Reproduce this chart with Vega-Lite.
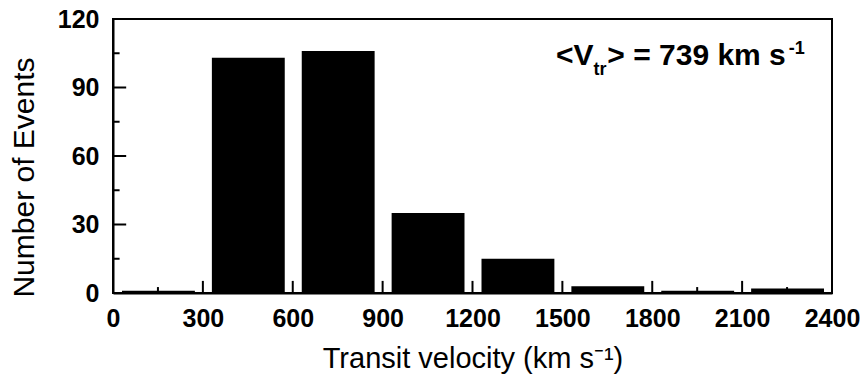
{
  "$schema": "https://vega.github.io/schema/vega-lite/v6.json",
  "width": 719,
  "height": 274,
  "autosize": "none",
  "padding": {"left": 113, "top": 19, "right": 34, "bottom": 86},
  "background": "white",
  "config": {
    "view": {"stroke": "black", "strokeWidth": 2},
    "font": "Liberation Sans"
  },
  "layer": [
    {
      "data": {
        "values": [
          {"bin_start": 0, "bin_end": 300, "count": 1},
          {"bin_start": 300, "bin_end": 600, "count": 103},
          {"bin_start": 600, "bin_end": 900, "count": 106},
          {"bin_start": 900, "bin_end": 1200, "count": 35},
          {"bin_start": 1200, "bin_end": 1500, "count": 15},
          {"bin_start": 1500, "bin_end": 1800, "count": 3},
          {"bin_start": 1800, "bin_end": 2100, "count": 1},
          {"bin_start": 2100, "bin_end": 2400, "count": 2}
        ]
      },
      "mark": {"type": "bar", "color": "black", "binSpacing": 17},
      "encoding": {
        "x": {
          "field": "bin_start",
          "bin": "binned",
          "type": "quantitative",
          "scale": {"domain": [0, 2400], "nice": false},
          "axis": {
            "orient": "bottom",
            "title": "Transit velocity (km s⁻¹)",
            "values": [0, 300, 600, 900, 1200, 1500, 1800, 2100, 2400],
            "format": "d",
            "ticks": false,
            "labelFont": "Liberation Sans",
            "labelFontWeight": "bold",
            "labelFontSize": 25,
            "labelColor": "black",
            "labelFlush": false,
            "labelOverlap": false,
            "labelPadding": 13,
            "titleFont": "Liberation Sans",
            "titleFontWeight": "normal",
            "titleFontSize": 29,
            "titleColor": "black",
            "titleBaseline": "alphabetic",
            "titleY": 74,
            "domainColor": "black",
            "domainWidth": 2,
            "grid": false
          }
        },
        "x2": {"field": "bin_end"},
        "y": {
          "field": "count",
          "type": "quantitative",
          "scale": {"domain": [0, 120], "nice": false},
          "axis": {
            "orient": "left",
            "title": "Number of Events",
            "values": [0, 30, 60, 90, 120],
            "ticks": false,
            "labelFont": "Liberation Sans",
            "labelFontWeight": "bold",
            "labelFontSize": 25,
            "labelColor": "black",
            "labelFlush": false,
            "labelOverlap": false,
            "labelPadding": 14,
            "titleFont": "Liberation Sans",
            "titleFontWeight": "normal",
            "titleFontSize": 30,
            "titleColor": "black",
            "titleBaseline": "alphabetic",
            "titleX": -80,
            "titleY": 158,
            "domainColor": "black",
            "domainWidth": 2,
            "grid": false
          }
        }
      }
    },
    {
      "data": {"values": [{"v": 300}, {"v": 600}, {"v": 900}, {"v": 1200}, {"v": 1500}, {"v": 1800}, {"v": 2100}]},
      "mark": {"type": "rule", "color": "black", "strokeWidth": 2},
      "encoding": {
        "x": {"field": "v", "type": "quantitative"},
        "y": {"datum": 0, "type": "quantitative"},
        "y2": {"datum": 5.3}
      }
    },
    {
      "data": {"values": [{"v": 150}, {"v": 450}, {"v": 750}, {"v": 1050}, {"v": 1350}, {"v": 1650}, {"v": 1950}, {"v": 2250}]},
      "mark": {"type": "rule", "color": "black", "strokeWidth": 2},
      "encoding": {
        "x": {"field": "v", "type": "quantitative"},
        "y": {"datum": 0, "type": "quantitative"},
        "y2": {"datum": 2.6}
      }
    },
    {
      "data": {"values": [{"v": 30}, {"v": 60}, {"v": 90}]},
      "mark": {"type": "rule", "color": "black", "strokeWidth": 2},
      "encoding": {
        "y": {"field": "v", "type": "quantitative"},
        "x": {"datum": 0, "type": "quantitative"},
        "x2": {"datum": 44}
      }
    },
    {
      "data": {"values": [{"v": 15}, {"v": 45}, {"v": 75}, {"v": 105}]},
      "mark": {"type": "rule", "color": "black", "strokeWidth": 2},
      "encoding": {
        "y": {"field": "v", "type": "quantitative"},
        "x": {"datum": 0, "type": "quantitative"},
        "x2": {"datum": 22}
      }
    },
    {
      "data": {"values": [{"t": "<V"}]},
      "mark": {"type": "text", "align": "left", "baseline": "alphabetic", "fontWeight": "bold", "fontSize": 30, "color": "black", "font": "Liberation Sans"},
      "encoding": {
        "x": {"datum": 1479, "type": "quantitative"},
        "y": {"datum": 100, "type": "quantitative"},
        "text": {"field": "t"}
      }
    },
    {
      "data": {"values": [{"t": "tr"}]},
      "mark": {"type": "text", "align": "left", "baseline": "alphabetic", "fontWeight": "bold", "fontSize": 18, "color": "black", "font": "Liberation Sans"},
      "encoding": {
        "x": {"datum": 1604, "type": "quantitative"},
        "y": {"datum": 95.5, "type": "quantitative"},
        "text": {"field": "t"}
      }
    },
    {
      "data": {"values": [{"t": "> = 739 km s"}]},
      "mark": {"type": "text", "align": "left", "baseline": "alphabetic", "fontWeight": "bold", "fontSize": 30, "color": "black", "font": "Liberation Sans"},
      "encoding": {
        "x": {"datum": 1650, "type": "quantitative"},
        "y": {"datum": 100, "type": "quantitative"},
        "text": {"field": "t"}
      }
    },
    {
      "data": {"values": [{"t": "-1"}]},
      "mark": {"type": "text", "align": "left", "baseline": "alphabetic", "fontWeight": "bold", "fontSize": 18, "color": "black", "font": "Liberation Sans"},
      "encoding": {
        "x": {"datum": 2256, "type": "quantitative"},
        "y": {"datum": 104.5, "type": "quantitative"},
        "text": {"field": "t"}
      }
    }
  ]
}
